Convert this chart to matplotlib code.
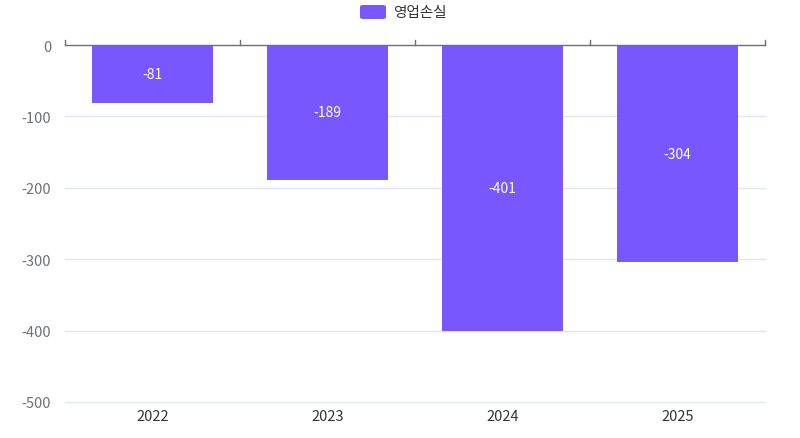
import matplotlib.pyplot as plt
from matplotlib.patches import FancyBboxPatch

plt.rcParams['font.family'] = ['Noto Sans CJK KR', 'DejaVu Sans']

# 데이터
years = ['2022', '2023', '2024', '2025']
loss = [-81, -189, -401, -304]
yticks = [0, -100, -200, -300, -400, -500]
bar_color = '#7857FF'

fig = plt.figure(figsize=(8, 4.39), dpi=100)
ax = fig.add_axes([65 / 800, (439 - 403) / 439, 700 / 800, (403 - 46) / 439])

x = range(len(years))
bars = ax.bar(x, loss, width=0.686, color=bar_color, zorder=3)

# 막대 안쪽 라벨
for b, v in zip(bars, loss):
    ax.text(b.get_x() + b.get_width() / 2, v / 2, str(v), ha='center', va='center',
            color='white', fontsize=10, zorder=4)

ax.set_xlim(-0.5, len(years) - 0.5)
ax.set_ylim(-500, 0)
ax.set_yticks(yticks)
ax.set_yticklabels([str(t) for t in yticks], color='#6E7079', fontsize=10.5)
ax.tick_params(axis='y', length=0, pad=10)
for t in yticks[1:]:
    ax.axhline(t, color='#E0E6F1', linewidth=1, zorder=0, clip_on=False)

# x축 라벨은 아래쪽, 축선은 0 위치
ax.set_xticks([])
for i, yr in enumerate(years):
    ax.text(i, -500 - 20, yr, ha='center', va='center', color='#333333', fontsize=10.5)
for s in ['left', 'right', 'bottom']:
    ax.spines[s].set_visible(False)
ax.spines['top'].set_color('#6E7079')
ax.spines['top'].set_linewidth(1)
ax.spines['top'].set_zorder(5)
for bx in [-0.5, 0.5, 1.5, 2.5, 3.5]:
    ax.plot([bx, bx], [0, 7], color='#6E7079', linewidth=1, clip_on=False, zorder=5)

# 범례
leg = FancyBboxPatch((360 / 800, (439 - 20) / 439), 26 / 800, 14 / 439,
                     boxstyle='round,pad=0,rounding_size=0.004', transform=fig.transFigure,
                     facecolor=bar_color, edgecolor='none')
fig.patches.append(leg)
fig.text(393 / 800, (439 - 13) / 439, '영업손실', ha='left', va='center', fontsize=10.5, color='#333333')

fig.savefig('out.png', dpi=100)
